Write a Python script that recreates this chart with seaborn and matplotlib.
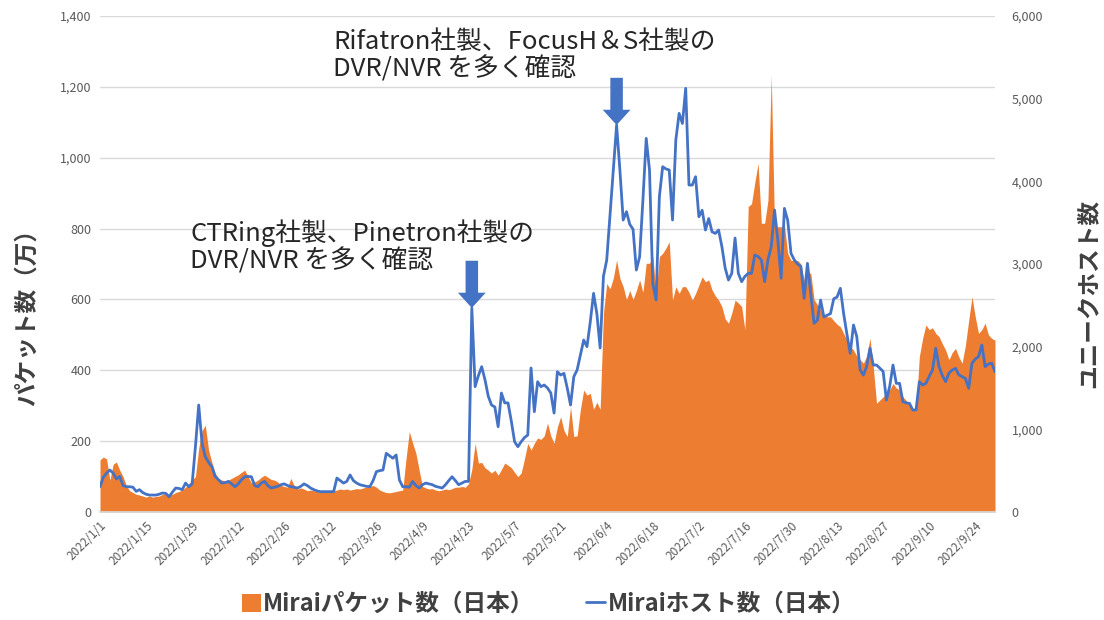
import matplotlib
matplotlib.use("Agg")
import matplotlib.pyplot as plt
import numpy as np
import pandas as pd
import seaborn as sns
from matplotlib.patches import Patch
from matplotlib.lines import Line2D

# ---------------- data ----------------
start_date = "2022-01-01"

# Mirai packets in Japan (unit: 10,000 packets), daily
packets = [
    147, 155, 150, 90, 135, 141, 118, 100, 75, 60,
    55, 50, 48, 45, 42, 45, 42, 44, 45, 50,
    52, 48, 50, 55, 58, 62, 70, 80, 90, 100,
    180, 230, 245, 175, 140, 110, 95, 90, 88, 90,
    95, 100, 105, 112, 118, 100, 82, 85, 90, 98,
    104, 98, 92, 90, 85, 75, 72, 70, 95, 75,
    65, 68, 65, 60, 62, 60, 58, 55, 57, 55,
    58, 60, 62, 65, 63, 65, 62, 64, 66, 65,
    68, 70, 72, 75, 70, 62, 58, 55, 54, 56,
    58, 60, 62, 150, 227, 195, 166, 118, 72, 68,
    65, 66, 62, 60, 62, 65, 63, 66, 70, 70,
    72, 70, 80, 120, 194, 138, 140, 125, 118, 110,
    118, 104, 120, 138, 132, 125, 112, 100, 110, 150,
    194, 175, 194, 209, 205, 215, 251, 215, 194, 240,
    269, 230, 213, 297, 213, 215, 290, 344, 330, 335,
    290, 310, 290, 560, 645, 630, 660, 711, 660, 636,
    600, 625, 600, 625, 655, 620, 702, 702, 721, 617,
    721, 730, 745, 763, 598, 636, 617, 636, 636, 620,
    598, 617, 640, 664, 650, 655, 627, 610, 598, 580,
    545, 533, 561, 598, 590, 580, 514, 862, 870, 930,
    984, 815, 815, 880, 1233, 805, 805, 805, 810, 730,
    710, 710, 710, 700, 655, 670, 675, 600, 585, 570,
    555, 551, 551, 540, 530, 523, 504, 485, 467, 457,
    440, 430, 420, 440, 490, 410, 307, 316, 325, 335,
    345, 363, 350, 345, 325, 315, 300, 292, 285, 438,
    490, 528, 515, 520, 504, 495, 475, 457, 430, 450,
    462, 438, 420, 470, 540, 608, 551, 504, 515, 533,
    500, 490, 485,
]

# Mirai unique hosts in Japan, daily
hosts = [
    306, 420, 470, 508, 470, 400, 430, 320, 306, 306,
    300, 250, 270, 235, 215, 205, 205, 205, 215, 230,
    225, 185, 240, 290, 285, 270, 350, 306, 340, 790,
    1294, 834, 669, 600, 548, 430, 390, 350, 355, 370,
    340, 306, 340, 390, 427, 430, 427, 320, 306, 350,
    370, 320, 290, 300, 310, 330, 340, 320, 306, 300,
    290, 310, 340, 320, 290, 270, 255, 246, 246, 246,
    246, 246, 411, 380, 350, 370, 448, 380, 350, 330,
    320, 310, 306, 380, 488, 500, 508, 710, 680, 650,
    690, 387, 306, 306, 300, 370, 320, 290, 330, 350,
    340, 330, 310, 300, 290, 330, 380, 427, 380, 330,
    350, 370, 370, 2468, 1516, 1650, 1758, 1600, 1400, 1294,
    1270, 1032, 1439, 1320, 1320, 1100, 850, 790, 850, 900,
    931, 1742, 1213, 1576, 1516, 1536, 1500, 1440, 1197, 1697,
    1657, 1677, 1500, 1294, 1637, 1718, 1900, 2080, 2000, 2300,
    2645, 2400, 1984, 2850, 3048, 3600, 4137, 4681, 4137, 3532,
    3633, 3480, 3420, 2927, 3088, 3774, 4520, 4137, 2766, 2564,
    3814, 4177, 4150, 4137, 3532, 4500, 4822, 4700, 5125, 3955,
    3955, 4056, 3572, 3650, 3411, 3550, 3390, 3370, 3411, 3210,
    2950, 2806, 2887, 3314, 2887, 2786, 2850, 2887, 2887, 3109,
    3090, 3048, 2786, 3050, 3210, 3653, 3290, 2827, 3673, 3530,
    3129, 3050, 3000, 2970, 2585, 3008, 2650, 2282, 2320, 2564,
    2360, 2380, 2400, 2580, 2600, 2706, 2400, 2150, 1920, 2262,
    2120, 1718, 1657, 1760, 1980, 1778, 1778, 1740, 1700, 1355,
    1520, 1778, 1556, 1556, 1334, 1320, 1314, 1234, 1234, 1576,
    1536, 1556, 1640, 1718, 1980, 1758, 1650, 1576, 1680, 1718,
    1738, 1660, 1637, 1617, 1496, 1800, 1850, 1880, 2020, 1758,
    1790, 1800, 1697,
]

left_ticks = [0, 200, 400, 600, 800, 1000, 1200, 1400]
right_ticks = [0, 1000, 2000, 3000, 4000, 5000, 6000]
tick_step_days = 14

packet_label = "Miraiパケット数（日本）"
host_label = "Miraiホスト数（日本）"
left_ylabel = "パケット数（万）"
right_ylabel = "ユニークホスト数"
note_mid = "CTRing社製、Pinetron社製の\nDVR/NVR を多く確認"
note_top = "Rifatron社製、FocusH＆S社製の\nDVR/NVR を多く確認"
note_mid_date = "2022-04-24"
note_top_date = "2022-06-07"

# ---------------- style ----------------
ORANGE = "#ED7D31"
BLUE = "#4472C4"
GRID = "#D9D9D9"
TICK = "#595959"
TEXT = "#262626"

sns.set_theme(style="white")
plt.rcParams["font.family"] = ["Noto Sans CJK JP", "DejaVu Sans"]

dates = pd.date_range(start_date, periods=len(packets), freq="D")
df = pd.DataFrame({"date": dates, "packets": packets, "hosts": hosts})

W, H = 1104, 620
fig = plt.figure(figsize=(W / 100, H / 100), dpi=100)
ax = fig.add_axes([100 / W, 1 - 512 / H, 895 / W, 496 / H])

# area (packets)
ax.fill_between(df["date"], 0, df["packets"], color=ORANGE, linewidth=0, zorder=2)
ax.set_ylim(0, 1400)
ax.set_yticks(left_ticks)
ax.set_yticklabels([f"{v:,}" for v in left_ticks], color=TICK, fontsize=9)
ax.yaxis.grid(True, color=GRID, linewidth=1.0)
ax.set_axisbelow(True)
ax.set_xlim(dates[0], dates[-1])

xt = dates[::tick_step_days]
ax.set_xticks(xt)
ax.set_xticklabels([f"{d.year}/{d.month}/{d.day}" for d in xt], rotation=45,
                   ha="right", rotation_mode="anchor", color=TICK, fontsize=8.5)
ax.tick_params(axis="both", length=0, pad=6)
ax.tick_params(axis="x", pad=5)
for s in ["top", "right", "left"]:
    ax.spines[s].set_visible(False)
ax.spines["bottom"].set_color(GRID)
ax.set_xlabel("")
ax.set_ylabel("")

# line (hosts)
ax2 = ax.twinx()
sns.lineplot(data=df, x="date", y="hosts", ax=ax2, color=BLUE, linewidth=2.0,
             legend=False, zorder=3)
ax2.set_ylim(0, 6000)
ax2.set_yticks(right_ticks)
ax2.set_yticklabels([f"{v:,}" for v in right_ticks], color=TICK, fontsize=9)
ax2.tick_params(axis="y", length=0, pad=12)
ax2.grid(False)
for s in ax2.spines.values():
    s.set_visible(False)
ax2.set_xlabel("")
ax2.set_ylabel("")
ax2.set_xlim(dates[0], dates[-1])

# axis titles
fig.text(27 / W, 1 - 312 / H, left_ylabel, rotation=90, ha="center", va="center",
         fontsize=17, fontweight="bold", color="#404040")
fig.text(1088 / W, 1 - 294 / H, right_ylabel, rotation=90, ha="center", va="center",
         fontsize=17, fontweight="bold", color="#404040")

# annotations with block arrows pointing to the spikes
arrow_style = "simple,head_length=0.55,head_width=1.0,tail_width=0.45"
for dstr, txt, tx, ty in [(note_mid_date, note_mid, 190, 219),
                          (note_top_date, note_top, 333, 29)]:
    d = pd.Timestamp(dstr)
    val = df.loc[df["date"] == d, "hosts"].iloc[0]
    ax2.annotate("", xy=(d, val), xytext=(0, 34), textcoords="offset points",
                 arrowprops=dict(arrowstyle=arrow_style, fc=BLUE, ec="none",
                                 mutation_scale=20, shrinkA=0, shrinkB=0),
                 zorder=5)
    fig.text(tx / W, 1 - ty / H, txt, ha="left", va="top", fontsize=18.5,
             color=TEXT, linespacing=1.05)

# legend
handles = [Patch(facecolor=ORANGE, edgecolor="none", label=packet_label),
           Line2D([0], [0], color=BLUE, linewidth=2.0, label=host_label)]
leg = fig.legend(handles=handles, loc="center", bbox_to_anchor=(0.497, 1 - 604 / H),
                 ncol=2, frameon=False, fontsize=17, handlelength=0.8,
                 handleheight=0.8, handletextpad=0.1, columnspacing=2.2)
for t in leg.get_texts():
    t.set_color("#404040")
    t.set_fontweight("bold")

fig.savefig("out.png", dpi=100)
